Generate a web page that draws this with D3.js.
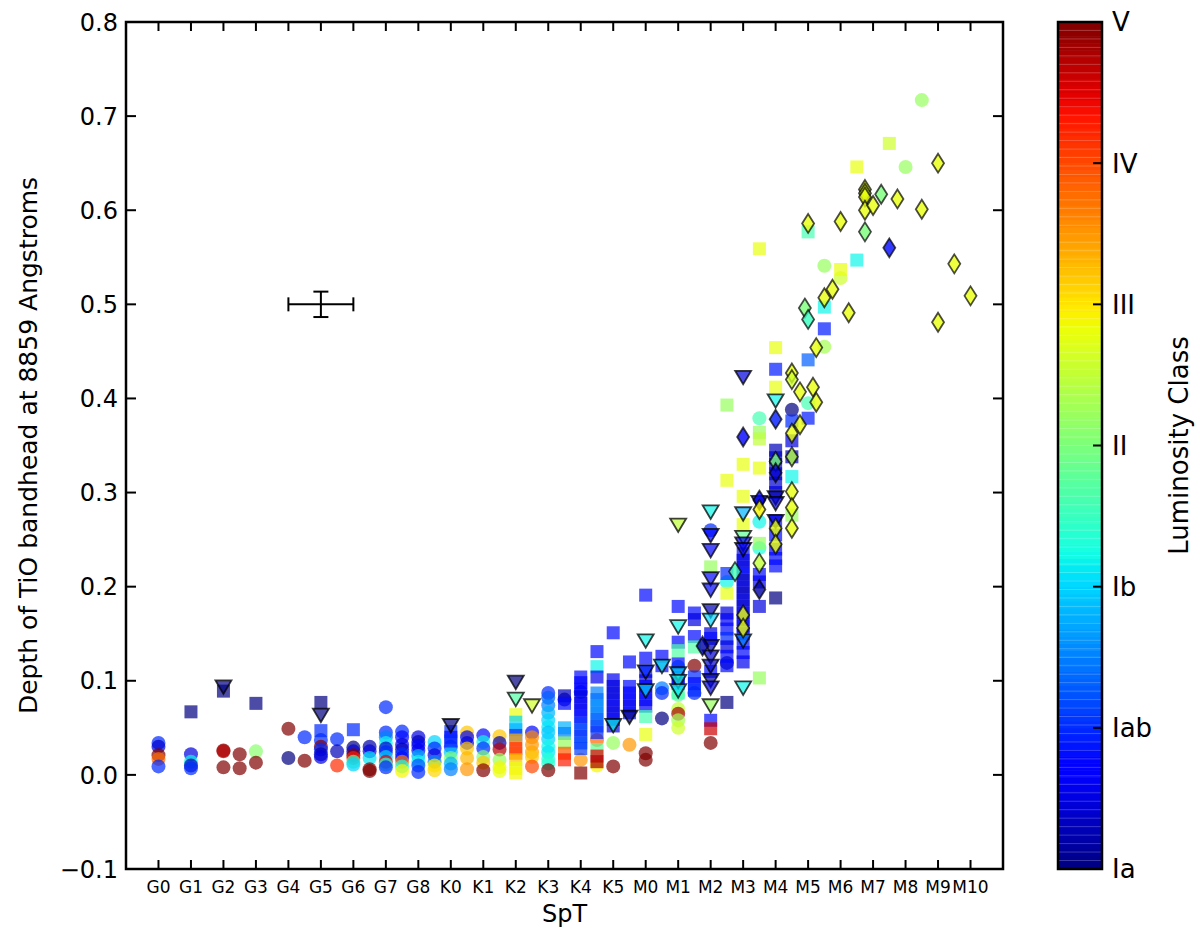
<!DOCTYPE html>
<html><head><meta charset="utf-8">
<script src="https://cdn.jsdelivr.net/npm/d3@7"></script>
<style>body{margin:0;background:#fff}svg{display:block;font-family:"DejaVu Sans",sans-serif}</style>
</head><body>
<svg id="c" width="1200" height="947"></svg>
<script>
// ---- data ----
const spTypes = ["G0","G1","G2","G3","G4","G5","G6","G7","G8","K0","K1","K2","K3","K4","K5","M0","M1","M2","M3","M4","M5","M6","M7","M8","M9","M10"];
const yTicks = [-0.1,0.0,0.1,0.2,0.3,0.4,0.5,0.6,0.7,0.8];
const lumLabels = ["Ia","Iab","Ib","II","III","IV","V"];
// [spectral index, depth, luminosity (0=Ia ... 6=V)]
const circles = [
[0,0.034,1],[0,0.030,0.4],[0,0.021,6],[0,0.017,4.8],[0,0.009,1],
[1,0.022,0.5],[1,0.014,2.2],[1,0.010,0.3],[1,0.007,1],
[2,0.026,6],[2,0.025,5.7],[2,0.008,6],[2.5,0.022,6],[2.5,0.007,6],
[3,0.025,3.1],[3,0.013,6],
[4,0.049,6],[4,0.018,0],[4.5,0.040,1],[4.5,0.015,6],
[5,0.037,1],[5,0.030,6],[5,0.027,1],[5,0.022,0.3],[5,0.019,0.5],
[5.5,0.038,1],[5.5,0.025,0.3],[5.5,0.010,5.2],
[6,0.029,0],[6,0.025,0.5],[6,0.021,6],[6,0.018,5.3],[6,0.014,2.6],[6,0.011,2],
[6.5,0.030,0.2],[6.5,0.025,0.5],[6.5,0.018,2.1],[6.5,0.006,6],[6.5,0.004,6],
[7,0.072,1],[7,0.045,1],[7,0.040,1.5],[7,0.034,2.2],[7,0.028,0.4],[7,0.024,1],[7,0.019,2],[7,0.014,5.5],[7,0.011,2.4],[7,0.008,1],
[7.5,0.046,1],[7.5,0.040,0.8],[7.5,0.032,0.5],[7.5,0.027,0.3],[7.5,0.022,1],[7.5,0.018,0.8],[7.5,0.014,4.7],[7.5,0.009,2.3],[7.5,0.004,3.9],
[8,0.040,0.5],[8,0.035,0.3],[8,0.031,0.8],[8,0.026,0.6],[8,0.020,1.8],[8,0.014,2.2],[8,0.010,1.2],[8,0.003,1],
[8.5,0.035,2],[8.5,0.028,1],[8.5,0.021,0.5],[8.5,0.014,1.5],[8.5,0.010,3.9],[8.5,0.005,4.1],
[9,0.030,1],[9,0.024,1.9],[9,0.018,3],[9,0.012,1.8],[9,0.006,1.5],
[9.5,0.045,4.2],[9.5,0.040,0.6],[9.5,0.034,0.5],[9.5,0.028,4.2],[9.5,0.018,4.3],[9.5,0.006,4.5],
[10,0.042,0.8],[10,0.035,2.2],[10,0.028,1],[10,0.019,3],[10,0.013,4.2],[10,0.005,6],
[10.5,0.041,4.2],[10.5,0.034,0.3],[10.5,0.027,5.7],[10.5,0.016,3.2],[10.5,0.008,3.9],[10.5,0.004,3.8],
[11.5,0.045,0.8],[11.5,0.040,4.6],[11.5,0.032,4.5],[11.5,0.024,4.4],[11.5,0.019,4.2],[11.5,0.009,5],
[12,0.087,1],[12,0.082,1.3],[12,0.074,1.5],[12,0.066,1.8],[12,0.058,2],[12,0.051,2.1],[12,0.045,1.9],[12,0.038,2],[12,0.030,2.2],[12,0.024,2.1],[12,0.017,2.3],[12,0.012,2.4],[12,0.005,6],
[12.5,0.080,0.3],
[13,0.088,1],[13,0.016,4.5],[13.5,0.037,4.8],[13.5,0.010,3.9],
[14,0.034,3.2],[14,0.009,6],[14.5,0.032,4.5],
[15,0.023,6],[15,0.016,6],[15.5,0.092,1.5],[15.5,0.087,1],[15.5,0.060,0],
[16,0.115,1.5],[16,0.085,2.8],[16,0.070,3.5],[16,0.065,5.8],[16,0.058,3.3],[16,0.050,3.6],
[16.5,0.116,6],[16.5,0.087,1],
[17,0.260,1],[17,0.034,6],[17.5,0.205,2.2],[17.5,0.119,0],
[18.5,0.379,2.6],[18.5,0.269,2.2],[18.5,0.241,2.3],
[19.5,0.388,0],
[20,0.395,2.6],[20.5,0.455,3.3],[20.5,0.541,3.2],[21,0.528,3.6],
[23,0.646,3.2],[23.5,0.717,3.2]
];
const squares = [
[1,0.067,0],[2,0.089,0],[3,0.076,0],[5,0.077,0],[5,0.047,1],[6,0.048,1],
[9,0.046,1],[9,0.040,0.8],[9,0.036,1],
[11,0.064,3.8],[11,0.056,2],[11,0.048,1.8],[11,0.042,1],[11,0.037,4.3],[11,0.028,5.3],[11,0.023,5],[11,0.016,4.2],[11,0.007,3.8],[11,0.002,3.9],
[12.5,0.084,0.3],[12.5,0.076,0.8],[12.5,0.050,1.8],[12.5,0.044,1.5],[12.5,0.034,3.2],[12.5,0.023,4.9],[12.5,0.016,5.3],
[13,0.104,0.8],[13,0.098,0.7],[13,0.091,0.7],[13,0.083,0.5],[13,0.076,0.6],[13,0.069,0.6],[13,0.062,0.8],[13,0.055,1],[13,0.048,1.2],[13,0.041,1],[13,0.034,1.2],[13,0.028,1.1],[13,0.002,6],
[13.5,0.131,0.8],[13.5,0.115,2.2],[13.5,0.104,0.6],[13.5,0.087,1.5],[13.5,0.080,1.4],[13.5,0.073,1.6],[13.5,0.066,1.5],[13.5,0.059,1.3],[13.5,0.052,1.2],[13.5,0.045,1],[13.5,0.027,2.8],[13.5,0.020,5.5],[13.5,0.014,5.8],
[14,0.151,0.8],[14,0.101,0.6],[14,0.094,0.5],[14,0.087,0.5],[14,0.080,0.5],[14,0.073,0.6],[14,0.066,0.5],[14,0.059,0.6],[14,0.052,0.5],
[14.5,0.120,0.8],[14.5,0.094,0.8],[14.5,0.087,0.7],[14.5,0.080,0.7],[14.5,0.073,0.6],[14.5,0.066,0.8],
[15,0.191,0.8],[15,0.124,0.8],[15,0.110,0.8],[15,0.100,0.5],[15,0.094,0.6],[15,0.087,0.7],[15,0.080,0.8],[15,0.073,0.6],[15,0.062,2.6],[15,0.043,3.8],
[15.5,0.126,0.8],[15.5,0.116,0.8],
[16,0.179,0.8],[16,0.141,0.8],[16,0.132,2.7],[16,0.118,0.8],[16,0.104,0.6],[16,0.097,0.7],[16,0.087,2.6],
[16.5,0.172,0.8],[16.5,0.165,0.5],[16.5,0.147,0.8],[16.5,0.136,2.7],[16.5,0.104,1],[16.5,0.097,0.8],[16.5,0.090,1],
[17,0.221,3.2],[17,0.150,0.5],[17,0.145,0.8],[17,0.110,0.8],[17,0.058,0.8],[17,0.049,5.6],
[17.5,0.393,3.2],[17.5,0.313,3.8],[17.5,0.214,1],[17.5,0.193,3.8],[17.5,0.172,0.5],[17.5,0.165,0.6],[17.5,0.155,0.8],[17.5,0.145,1],[17.5,0.136,0.5],[17.5,0.126,0.8],[17.5,0.116,0.8],[17.5,0.077,0],
[18,0.330,3.8],[18,0.296,3.8],[18,0.266,3.8],[18,0.235,0.8],[18,0.228,0.5],[18,0.221,0.5],[18,0.214,0.8],[18,0.207,0.3],[18,0.200,0.5],[18,0.193,0.3],[18,0.186,0.5],[18,0.179,0.4],[18,0.172,0.6],[18,0.165,0.5],[18,0.158,0.8],[18,0.150,0.6],[18,0.140,0.8],[18,0.130,0.8],[18,0.120,0.6],
[18.5,0.559,3.8],[18.5,0.364,3.2],[18.5,0.357,3.5],[18.5,0.326,3.8],[18.5,0.246,3.2],[18.5,0.213,0.8],[18.5,0.205,0.6],[18.5,0.179,0.5],[18.5,0.103,3.2],
[19,0.454,3.8],[19,0.431,0.9],[19,0.412,3.8],[19,0.345,0.3],[19,0.337,0.4],[19,0.330,0.3],[19,0.320,0.5],[19,0.310,0.4],[19,0.300,0.5],[19,0.270,0.8],[19,0.255,0.8],[19,0.240,0.6],[19,0.230,0.8],[19,0.222,0.8],[19,0.188,0],
[19.5,0.376,1],[19.5,0.355,0.5],[19.5,0.338,0.3],[19.5,0.317,2.2],[19.5,0.276,3.2],
[20,0.441,1.3],[20,0.379,0.9],[20,0.577,2.6],[20.5,0.497,2.2],[20.5,0.474,0.9],[21,0.537,3.8],[21.5,0.646,3.8],[21.5,0.547,2.2],[22.5,0.671,3.6]
];
const triangles = [
[2,0.094,0],[5,0.064,0],[9,0.053,0],[11,0.099,0],[11,0.081,2.7],[11.5,0.074,3.6],
[14,0.053,2.2],[14.5,0.062,0],
[15,0.143,2.2],[15,0.110,1],[15,0.090,2],[15.5,0.116,2.2],
[16,0.266,3.5],[16,0.158,2.2],[16,0.108,2],[16,0.100,2.3],[16,0.090,2.1],
[17,0.280,2.2],[17,0.255,0.7],[17,0.239,0.7],[17,0.209,0.8],[17,0.197,0.8],[17,0.175,0.3],[17,0.165,2],[17,0.137,0.3],[17,0.126,0.4],[17,0.116,0.4],[17,0.101,0.3],[17,0.093,0.5],[17,0.074,3.2],
[18,0.423,0.5],[18,0.278,1.8],[18,0.253,2.8],[18,0.246,0.5],[18,0.240,0.6],[18,0.143,1.5],[18,0.093,2.2],
[18.5,0.290,0.4],
[19,0.398,2.2],[19,0.295,0.3],[19,0.289,0.4],[19,0.270,0.5]
];
const diamonds = [
[16.75,0.137,0.2],[17.75,0.216,2.6],
[18,0.359,0.7],[18,0.170,3.8],[18,0.156,3.8],
[18.5,0.292,0.6],[18.5,0.282,3.9],[18.5,0.225,3.5],[18.5,0.197,0.2],
[19,0.378,0.9],[19,0.333,3],[19,0.321,0.4],[19,0.262,3.8],[19,0.245,3.8],
[19.5,0.427,3.8],[19.5,0.420,3.6],[19.5,0.363,3.8],[19.5,0.338,3.4],[19.5,0.301,3.8],[19.5,0.284,3.8],[19.5,0.262,3.8],
[19.75,0.407,3.8],[19.75,0.372,3.8],
[19.9,0.496,3],[20,0.484,2.5],[20,0.586,3.8],[20.15,0.412,3.8],[20.25,0.396,3.8],[20.25,0.454,3.8],
[20.5,0.507,3.8],[20.75,0.516,3.8],[21,0.588,3.8],[21.25,0.491,3.8],
[21.75,0.622,3.8],[21.75,0.618,3.7],[21.75,0.614,3.8],[21.75,0.600,3.8],[21.75,0.577,3],
[22,0.605,3.8],[22.25,0.617,3],[22.5,0.560,0.8],[22.75,0.612,3.8],[23.5,0.601,3.8],[24,0.650,3.8],[24,0.481,3.8],[24.5,0.543,3.8],[25,0.509,3.8]
];
// representative error bar: [spT, depth, xerr, yerr]
const errBar = [5, 0.5, 1, 0.0135];

// ---- layout ----
const svg = d3.select("#c");
const L = 126, R = 1003, T = 22, B = 869;
const x = d3.scaleLinear().domain([-1, 26]).range([L, R]);
const y = d3.scaleLinear().domain([-0.1, 0.8]).range([B, T]);

function jet(t){
  t = Math.max(0, Math.min(1, t));
  const interp = (pts) => {
    for (let i = 1; i < pts.length; i++) {
      if (t <= pts[i][0]) {
        const [x0,y0] = pts[i-1], [x1,y1] = pts[i];
        return y0 + (y1-y0)*(t-x0)/(x1-x0);
      }
    }
    return pts[pts.length-1][1];
  };
  const r = interp([[0,0],[0.35,0],[0.66,1],[0.89,1],[1,0.5]]);
  const g = interp([[0,0],[0.125,0],[0.375,1],[0.64,1],[0.91,0],[1,0]]);
  const b = interp([[0,0.5],[0.11,1],[0.34,1],[0.65,0],[1,0]]);
  return d3.rgb(r*255, g*255, b*255).toString();
}
const lumScale = d3.scaleLinear().domain([0, 6]).range([0, 1]);
const col = d => jet(lumScale(d[2]));

// ---- markers ----
const gPts = svg.append("g");
const alpha = 0.7;
gPts.selectAll("circle.c").data(circles).join("circle")
  .attr("cx", d => x(d[0])).attr("cy", d => y(d[1])).attr("r", 7)
  .attr("fill", col).attr("fill-opacity", alpha);
gPts.selectAll("rect.s").data(squares).join("rect")
  .attr("x", d => x(d[0]) - 6.5).attr("y", d => y(d[1]) - 6.5)
  .attr("width", 13).attr("height", 13)
  .attr("fill", col).attr("fill-opacity", alpha);
gPts.selectAll("path.t").data(triangles).join("path")
  .attr("d", "M-8,-6L8,-6L0,7.5Z")
  .attr("transform", d => `translate(${x(d[0])},${y(d[1])})`)
  .attr("fill", col).attr("fill-opacity", alpha)
  .attr("stroke", "#000").attr("stroke-opacity", 0.75).attr("stroke-width", 1.8);
gPts.selectAll("path.d").data(diamonds).join("path")
  .attr("d", "M0,-9.5L6,0L0,9.5L-6,0Z")
  .attr("transform", d => `translate(${x(d[0])},${y(d[1])})`)
  .attr("fill", col).attr("fill-opacity", 0.8)
  .attr("stroke", "#000").attr("stroke-opacity", 0.7).attr("stroke-width", 1.8);

// ---- error bar ----
const eb = svg.append("g").attr("stroke", "#000").attr("stroke-width", 2).attr("fill", "none");
const [ex, ey, exe, eye] = errBar;
eb.append("line").attr("x1", x(ex-exe)).attr("x2", x(ex+exe)).attr("y1", y(ey)).attr("y2", y(ey));
eb.append("line").attr("x1", x(ex)).attr("x2", x(ex)).attr("y1", y(ey-eye)).attr("y2", y(ey+eye));
[ex-exe, ex+exe].forEach(v => eb.append("line").attr("x1", x(v)).attr("x2", x(v)).attr("y1", y(ey)-7).attr("y2", y(ey)+7));
[ey-eye, ey+eye].forEach(v => eb.append("line").attr("x1", x(ex)-7.5).attr("x2", x(ex)+7.5).attr("y1", y(v)).attr("y2", y(v)));

// ---- axes ----
const ax = svg.append("g").attr("stroke", "#000").attr("stroke-width", 2);
spTypes.forEach((s, i) => {
  ax.append("line").attr("x1", x(i)).attr("x2", x(i)).attr("y1", B).attr("y2", B-9);
  ax.append("line").attr("x1", x(i)).attr("x2", x(i)).attr("y1", T).attr("y2", T+9);
});
yTicks.forEach(v => {
  ax.append("line").attr("x1", L).attr("x2", L+10).attr("y1", y(v)).attr("y2", y(v));
  ax.append("line").attr("x1", R).attr("x2", R-10).attr("y1", y(v)).attr("y2", y(v));
});
svg.append("rect").attr("x", L).attr("y", T).attr("width", R-L).attr("height", B-T)
  .attr("fill", "none").attr("stroke", "#000").attr("stroke-width", 2.5);

svg.append("g").selectAll("text").data(spTypes).join("text")
  .attr("x", (d, i) => x(i)).attr("y", 893).attr("text-anchor", "middle")
  .attr("font-size", 17).text(d => d);
svg.append("g").selectAll("text").data(yTicks).join("text")
  .attr("x", 118).attr("y", d => y(d)).attr("dy", "0.36em").attr("text-anchor", "end")
  .attr("font-size", 24).text(d => (d < 0 ? "\u2212" : "") + Math.abs(d).toFixed(1));
svg.append("text").attr("x", x(12.5)).attr("y", 922).attr("text-anchor", "middle")
  .attr("font-size", 24).text("SpT");
svg.append("text").attr("transform", `translate(37,${(T+B)/2}) rotate(-90)`)
  .attr("text-anchor", "middle").attr("font-size", 25).text("Depth of TiO bandhead at 8859 Angstroms");

// ---- colorbar ----
const cbL = 1058, cbR = 1102;
const cy = d3.scaleLinear().domain([0, 6]).range([B, T]);
const nSeg = 120;
const cb = svg.append("g");
cb.selectAll("rect").data(d3.range(nSeg)).join("rect")
  .attr("x", cbL).attr("width", cbR-cbL)
  .attr("y", i => cy((i+1)*6/nSeg)).attr("height", i => cy(i*6/nSeg) - cy((i+1)*6/nSeg) + 0.6)
  .attr("fill", i => jet((i+0.5)/nSeg));
cb.selectAll("line.st").data(d3.range(1, 100)).join("line")
  .attr("x1", cbL).attr("x2", cbR)
  .attr("y1", i => cy(i*0.06)).attr("y2", i => cy(i*0.06))
  .attr("stroke", "#fff").attr("stroke-opacity", 0.22).attr("stroke-width", 1);
cb.selectAll("line.tk").data(lumLabels).join("line")
  .attr("x1", cbR-9).attr("x2", cbR).attr("y1", (d, i) => cy(i)).attr("y2", (d, i) => cy(i))
  .attr("stroke", "#000").attr("stroke-width", 2);
cb.append("rect").attr("x", cbL).attr("y", T).attr("width", cbR-cbL).attr("height", B-T)
  .attr("fill", "none").attr("stroke", "#000").attr("stroke-width", 2.5);
cb.selectAll("text").data(lumLabels).join("text")
  .attr("x", 1112).attr("y", (d, i) => cy(i)).attr("dy", "0.36em")
  .attr("font-size", 26).text(d => d);
svg.append("text").attr("transform", `translate(1188,${(T+B)/2}) rotate(-90)`)
  .attr("text-anchor", "middle").attr("font-size", 26).text("Luminosity Class");
</script>
</body></html>
